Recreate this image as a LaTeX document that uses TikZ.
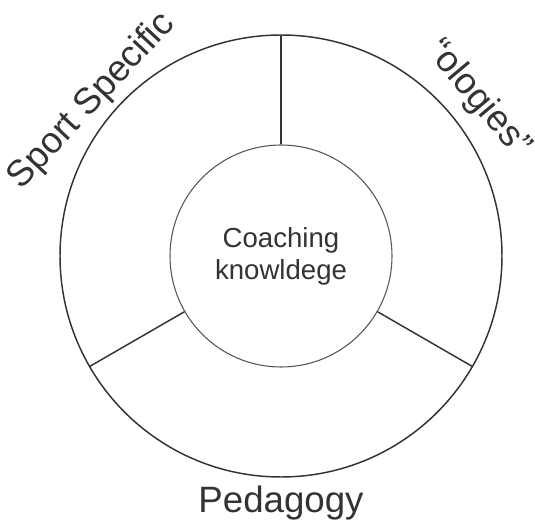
\documentclass[tikz,border=0pt]{standalone}
\usepackage{fontspec}
\setmainfont{Liberation Sans}

\definecolor{inkgray}{HTML}{333333}
\definecolor{rimgray}{HTML}{555555}

\begin{document}
\begin{tikzpicture}[x=0.75pt, y=0.75pt,
    rim/.style={draw=inkgray, line width=1.1pt},
    core/.style={circle, draw=rimgray, line width=0.8pt, minimum size=166.5pt,
                 inner sep=0pt, align=center, text=inkgray,
                 font=\fontsize{20.7}{24}\selectfont},
    area/.style={text=inkgray, font=\fontsize{27.5}{30}\selectfont}]
    \useasboundingbox (-281,-271) rectangle (254,256);

    % outer ring
    \draw[rim] (0,0) circle (221);
    \coordinate (top) at (90:221);
    \coordinate (lowleft) at (210:221);
    \coordinate (lowright) at (-30:221);

    % centre circle
    \node[core] (core) at (0,0) {Coaching\\knowldege};

    % spokes between the rings
    \draw[rim] (core.90) -- (top);
    \draw[rim] (core.210) -- (lowleft);
    \draw[rim] (core.-30) -- (lowright);

    % labels round the ring
    \node[area, rotate=47, inner sep=1pt] (sport) at (-189,155) {Sport Specific};
    \node[area, rotate=-50, inner sep=1pt] (ologies) at (197,157) {“ologies”};
    \node[area, anchor=base] (pedagogy) at (0,-256) {Pedagogy};
\end{tikzpicture}
\end{document}
